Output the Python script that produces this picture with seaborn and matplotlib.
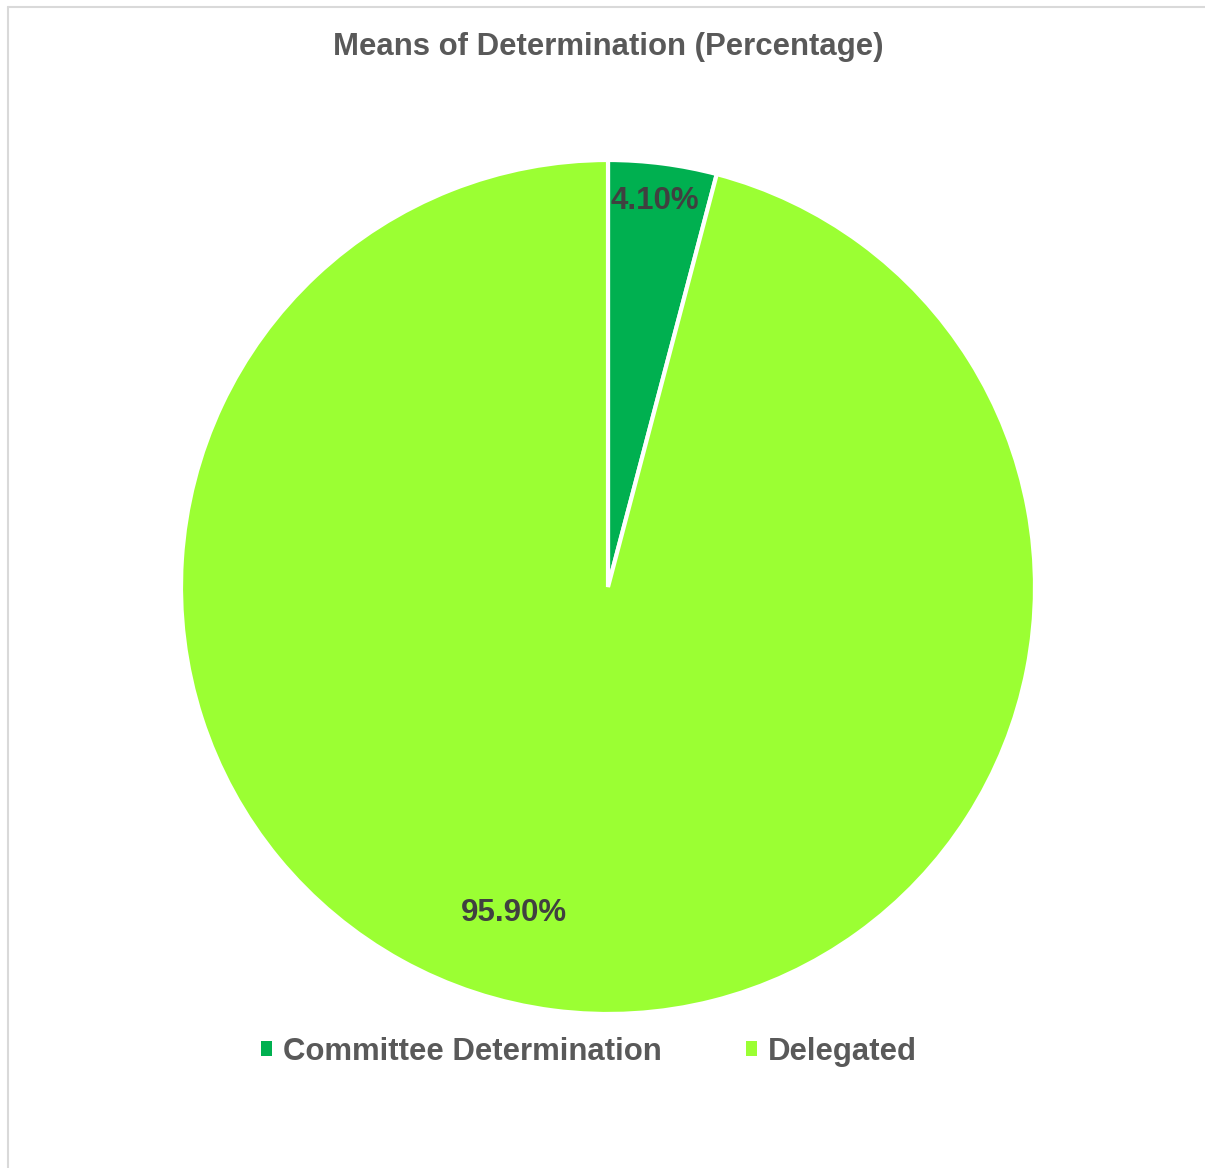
import matplotlib.pyplot as plt
import matplotlib.patches as mpatches
from matplotlib.lines import Line2D
import seaborn as sns

sns.set_theme(style="white")
plt.rcParams['font.family'] = ['Liberation Sans', 'DejaVu Sans']

# data
categories = ['Committee Determination', 'Delegated']
values = [4.10, 95.90]
colors = ['#00B050', '#9BFF33']

fig = plt.figure(figsize=(12.05, 11.68), dpi=100)
fig.patch.set_facecolor('white')

# pie axes: centre (608, 587) px, radius ~427 px
ax = fig.add_axes([181/1205, 154/1168, 854/1205, 854/1168])
wedges, texts, autotexts = ax.pie(
    values, colors=colors, startangle=90, counterclock=False,
    autopct='%.2f%%', pctdistance=0.91,
    wedgeprops=dict(edgecolor='white', linewidth=3),
    textprops=dict(fontsize=22.5, fontweight='bold', color='#404040'),
)
autotexts[0].set_position((0.11, 0.905))
autotexts[1].set_position((-0.22, -0.763))
ax.set_xlim(-1, 1)
ax.set_ylim(-1, 1)
ax.set_aspect('equal')
ax.axis('off')

fig.text(0.5045, 1 - 47/1168, 'Means of Determination (Percentage)',
         ha='center', va='center', fontsize=22.4, fontweight='bold', color='#595959')

handles = [mpatches.Patch(facecolor=c, edgecolor='none') for c in colors]
leg = fig.legend(handles, categories, loc='center', bbox_to_anchor=(0.489, 1 - 1052/1168),
                 ncol=2, frameon=False, handlelength=0.36, handleheight=0.36,
                 handletextpad=0.35, columnspacing=2.7,
                 prop=dict(size=22.4, weight='bold'))
for t in leg.get_texts():
    t.set_color('#595959')

# chart border (top and left edge visible)
fig.add_artist(Line2D([8/1205, 1], [1 - 7/1168, 1 - 7/1168], color='#D9D9D9', lw=1.5))
fig.add_artist(Line2D([8/1205, 8/1205], [0, 1 - 7/1168], color='#D9D9D9', lw=1.5))

fig.savefig('out.png', dpi=100, facecolor='white')
